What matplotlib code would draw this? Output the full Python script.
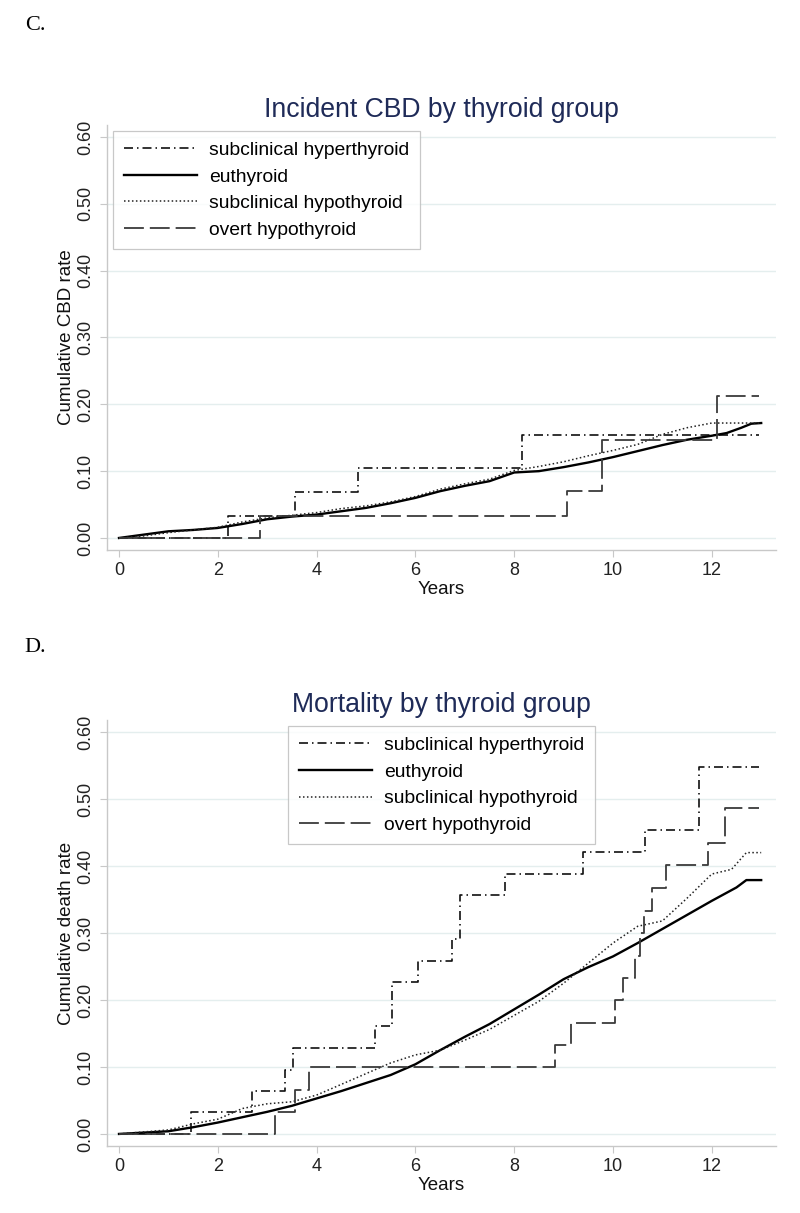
import matplotlib
matplotlib.use("Agg")
import matplotlib.pyplot as plt
import numpy as np

plt.rcParams['font.family'] = ['Liberation Sans', 'DejaVu Sans']

labels = ["subclinical hyperthyroid", "euthyroid", "subclinical hypothyroid", "overt hypothyroid"]
x_ticks = [0, 2, 4, 6, 8, 10, 12]
y_ticks = [0.0, 0.1, 0.2, 0.3, 0.4, 0.5, 0.6]

# ---- Panel C: Incident CBD ----
c_hyper_t = [0, 2.20, 3.56, 4.84, 8.16, 12.95]
c_hyper_y = [0, 0.0325, 0.069, 0.104, 0.154, 0.154]
c_eu_t = [0, 0.5, 1, 1.5, 2, 2.5, 3, 3.5, 4, 4.5, 5, 5.5, 6, 6.5, 7, 7.5, 8, 8.5, 9, 9.5, 10, 10.5, 11, 11.5, 12, 12.3, 12.6, 12.8, 13.0]
c_eu_y = [0, 0.005, 0.010, 0.012, 0.015, 0.021, 0.028, 0.032, 0.035, 0.040, 0.045, 0.052, 0.060, 0.070, 0.078, 0.085, 0.098, 0.100, 0.106, 0.113, 0.121, 0.130, 0.139, 0.147, 0.153, 0.157, 0.165, 0.171, 0.172]
c_hypo_t = [0, 0.5, 1, 1.5, 2, 2.5, 3, 3.5, 4, 4.5, 5, 5.5, 6, 6.5, 7, 7.5, 8, 8.5, 9, 9.5, 10, 10.5, 11, 11.5, 12, 12.5, 13.0]
c_hypo_y = [0, 0.003, 0.008, 0.012, 0.016, 0.024, 0.030, 0.034, 0.038, 0.044, 0.048, 0.054, 0.062, 0.073, 0.081, 0.088, 0.101, 0.107, 0.114, 0.123, 0.131, 0.140, 0.155, 0.165, 0.172, 0.172, 0.172]
c_overt_t = [0, 2.85, 9.07, 9.78, 12.10, 12.95]
c_overt_y = [0, 0.0325, 0.070, 0.146, 0.212, 0.212]

# ---- Panel D: Mortality ----
d_hyper_t = [0, 1.45, 2.70, 3.36, 3.52, 5.19, 5.53, 6.05, 6.75, 6.91, 7.82, 9.39, 10.64, 11.75, 12.95]
d_hyper_y = [0, 0.0325, 0.064, 0.096, 0.1285, 0.161, 0.2265, 0.2585, 0.291, 0.356, 0.3885, 0.421, 0.4535, 0.548, 0.548]
d_eu_t = [0, 0.5, 1, 1.5, 2, 2.5, 3, 3.5, 4, 4.5, 5, 5.5, 6, 6.5, 7, 7.5, 8, 8.5, 9, 9.5, 10, 10.5, 11, 11.5, 12, 12.5, 12.7, 13.0]
d_eu_y = [0, 0.002, 0.004, 0.010, 0.017, 0.025, 0.033, 0.042, 0.053, 0.064, 0.076, 0.088, 0.104, 0.125, 0.145, 0.164, 0.186, 0.208, 0.231, 0.249, 0.265, 0.285, 0.306, 0.327, 0.348, 0.368, 0.379, 0.379]
d_hypo_t = [0, 0.5, 1, 1.5, 2, 2.5, 3, 3.5, 4, 4.5, 5, 5.5, 6, 6.5, 7, 7.5, 8, 8.5, 9, 9.5, 10, 10.5, 11, 11.5, 12, 12.4, 12.7, 13.0]
d_hypo_y = [0, 0.003, 0.006, 0.015, 0.022, 0.038, 0.045, 0.048, 0.058, 0.074, 0.090, 0.106, 0.118, 0.125, 0.140, 0.156, 0.177, 0.198, 0.225, 0.255, 0.285, 0.310, 0.318, 0.352, 0.388, 0.395, 0.420, 0.420]
d_overt_t = [0, 3.15, 3.56, 3.84, 8.82, 9.15, 10.04, 10.21, 10.44, 10.55, 10.62, 10.78, 11.07, 11.93, 12.27, 12.95]
d_overt_y = [0, 0.0325, 0.066, 0.100, 0.1325, 0.166, 0.200, 0.2325, 0.266, 0.300, 0.333, 0.3675, 0.401, 0.434, 0.486, 0.486]

fig = plt.figure(figsize=(8.0, 12.13), dpi=100)

TITLE_COLOR = '#1f2b58'
GRID_COLOR = '#e4eeee'
SPINE_COLOR = '#c8c8c8'

style_hyper = dict(color='#111111', lw=1.2, linestyle=(0, (5.4, 2.4, 0.9, 2.4)))
style_eu = dict(color='#000000', lw=1.7, linestyle='-')
style_hypo = dict(color='#222222', lw=1.1, linestyle=(0, (1, 1.6)))
style_overt = dict(color='#3a3a3a', lw=1.3, linestyle=(0, (11, 3.3)))


def setup(ax, title, ylabel, leg_anchor):
    ax.set_xlim(-0.243, 13.30)
    ax.set_ylim(-0.018, 0.618)
    ax.set_xticks(x_ticks)
    ax.set_yticks(y_ticks)
    ax.set_yticklabels([f"{v:.2f}" for v in y_ticks], rotation=90, va='center')
    ax.tick_params(axis='both', labelsize=13, colors='#222222', length=5, width=0.8,
                   direction='out', color=SPINE_COLOR, pad=4)
    ax.grid(axis='y', color=GRID_COLOR, lw=1.0)
    ax.set_axisbelow(True)
    for s in ['top', 'right']:
        ax.spines[s].set_visible(False)
    for s in ['left', 'bottom']:
        ax.spines[s].set_color(SPINE_COLOR)
        ax.spines[s].set_linewidth(1.0)
    ax.set_title(title, fontsize=19.2, color=TITLE_COLOR, pad=6)
    ax.set_ylabel(ylabel, fontsize=13.5, labelpad=2, color='#111111')
    ax.set_xlabel("Years", fontsize=13.5, labelpad=1, color='#111111')
    leg = ax.legend(loc='upper left', bbox_to_anchor=leg_anchor, fontsize=13.9, frameon=True,
                    fancybox=False, edgecolor='#bbbbbb', handlelength=3.8, handletextpad=0.62,
                    borderpad=0.55, labelspacing=0.47, borderaxespad=0)
    leg.get_frame().set_linewidth(0.9)


axC = fig.add_axes([0.13375, 0.54658, 0.83625, 0.35037])
axC.plot(c_hyper_t, c_hyper_y, drawstyle='steps-post', label=labels[0], **style_hyper)
axC.plot(c_eu_t, c_eu_y, label=labels[1], **style_eu)
axC.plot(c_hypo_t, c_hypo_y, label=labels[2], **style_hypo)
axC.plot(c_overt_t, c_overt_y, drawstyle='steps-post', label=labels[3], **style_overt)
setup(axC, "Incident CBD by thyroid group", "Cumulative CBD rate", (0.009, 0.986))

axD = fig.add_axes([0.13375, 0.05524, 0.83625, 0.3512])
axD.plot(d_hyper_t, d_hyper_y, drawstyle='steps-post', label=labels[0], **style_hyper)
axD.plot(d_eu_t, d_eu_y, label=labels[1], **style_eu)
axD.plot(d_hypo_t, d_hypo_y, label=labels[2], **style_hypo)
axD.plot(d_overt_t, d_overt_y, drawstyle='steps-post', label=labels[3], **style_overt)
setup(axD, "Mortality by thyroid group", "Cumulative death rate", (0.2706, 0.986))

fig.text(0.031, 1 - 16 / 1213, "C.", fontsize=16, family=['Liberation Serif', 'DejaVu Serif'], va='top')
fig.text(0.031, 1 - 638 / 1213, "D.", fontsize=16, family=['Liberation Serif', 'DejaVu Serif'], va='top')

fig.savefig("out.png", dpi=100)
